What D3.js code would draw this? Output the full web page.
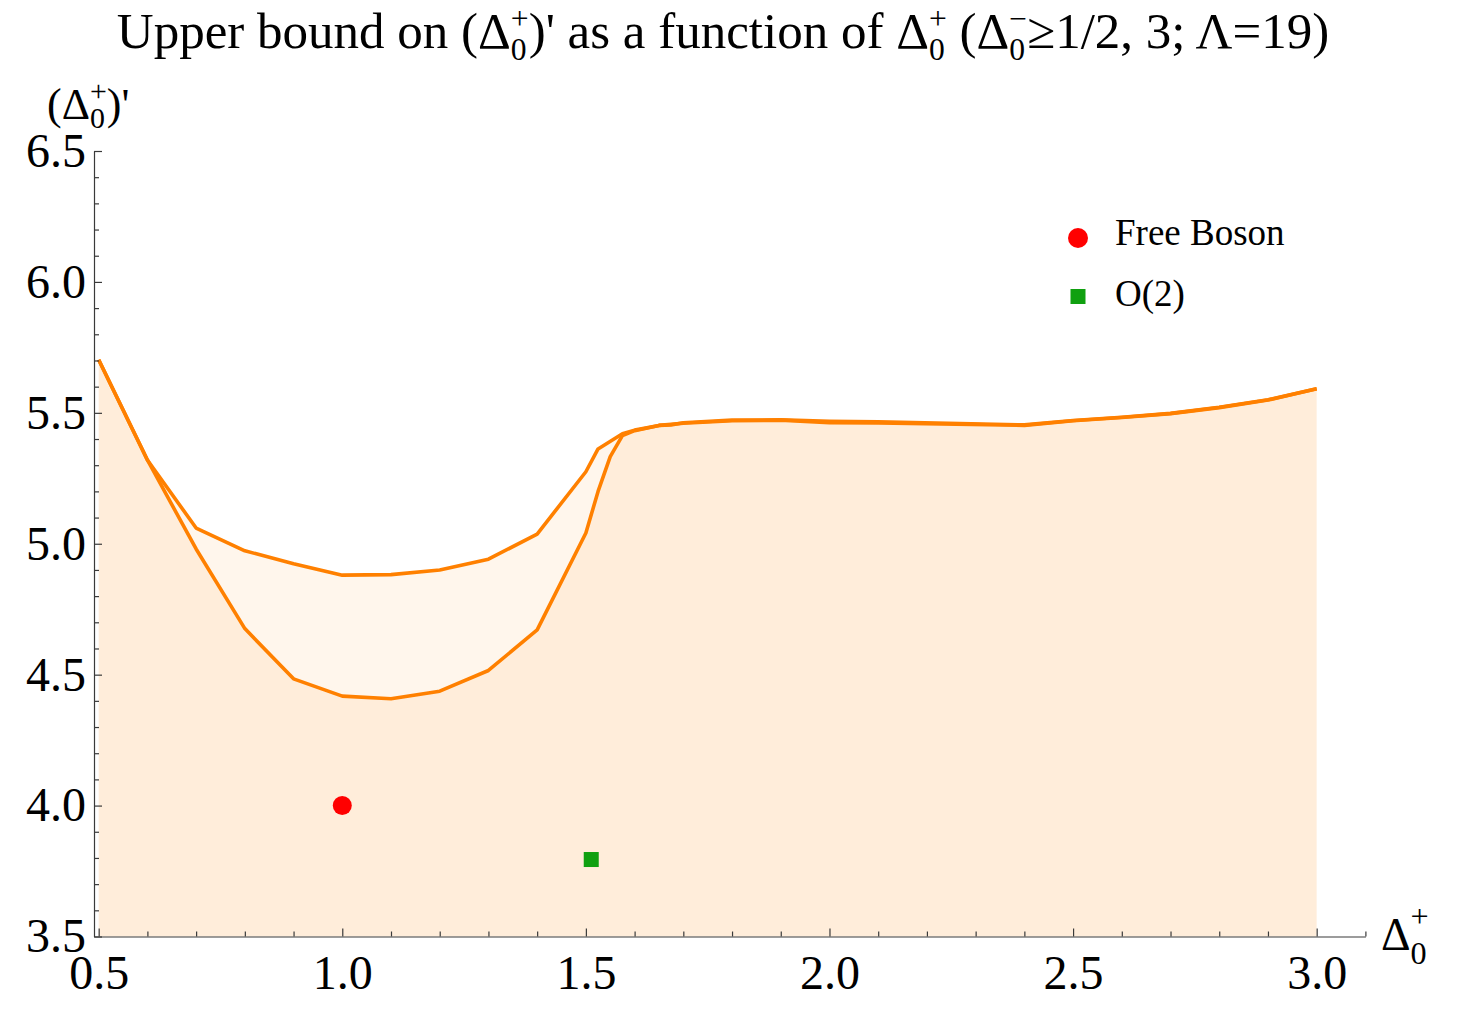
<!DOCTYPE html>
<html>
<head>
<meta charset="utf-8">
<script src="https://cdn.jsdelivr.net/npm/d3@7"></script>
<style>
	body { margin: 0; background: #fff; }
	text { font-family: 'Liberation Serif', 'Times New Roman', serif; fill: #000; }
	.axis path, .axis line { stroke: #3a3a3a; stroke-width: 1.2; }
	.axis text { font-family: 'Liberation Serif', serif; font-size: 48px; fill: #000; }
</style>
</head>
<body>
<div id="chart"></div>
<script>
let width = 1459
let height = 1032

// upper curve of the bound
let upperX = [0.5, 0.6, 0.7, 0.8, 0.9, 1.0, 1.1, 1.2, 1.3, 1.4, 1.5, 1.525, 1.575, 1.6, 1.65, 1.675, 1.7, 1.8, 1.9, 2.0, 2.1, 2.4, 2.5, 2.6, 2.7, 2.8, 2.9, 3.0]
let upperY = [5.703, 5.32, 5.06, 4.973, 4.924, 4.88, 4.882, 4.9, 4.941, 5.037, 5.275, 5.362, 5.42, 5.434, 5.452, 5.454, 5.462, 5.472, 5.473, 5.468, 5.466, 5.454, 5.471, 5.483, 5.498, 5.521, 5.55, 5.592]

// lower curve
let lowerX = [0.5, 0.6, 0.7, 0.8, 0.9, 1.0, 1.1, 1.2, 1.3, 1.4, 1.5, 1.525, 1.55, 1.575, 1.6, 1.65, 1.7, 1.8, 1.9, 2.0, 2.1, 2.4, 2.5, 2.6, 2.7, 2.8, 2.9, 3.0]
let lowerY = [5.703, 5.32, 4.98, 4.676, 4.484, 4.418, 4.408, 4.437, 4.516, 4.671, 5.041, 5.2, 5.333, 5.413, 5.432, 5.452, 5.46, 5.47, 5.472, 5.462, 5.461, 5.452, 5.47, 5.482, 5.497, 5.52, 5.549, 5.592]

// known models
let pointNames = ['Free Boson', 'O(2)']
let pointX = [1.0, 1.511]
let pointY = [4.0, 3.794]
let pointColors = ['#ff0000', '#10a010']

let xTicks = [0.5, 1.0, 1.5, 2.0, 2.5, 3.0]
let yTicks = [3.5, 4.0, 4.5, 5.0, 5.5, 6.0, 6.5]

let xScale = d3.scaleLinear()
	.domain([0.4904, 3.1])
	.range([94, 1365.4])

let yScale = d3.scaleLinear()
	.domain([3.5, 6.5])
	.range([936.5, 151])

let svg = d3.select('#chart').append('svg')
	.attr('width', width)
	.attr('height', height)

// text with stacked sub/superscripts
let richText = (sel, segs, size, o) => {
	let cur = 0
	let small = size * o.small
	segs.forEach((s) => {
		if (s.t !== undefined) {
			sel.append('tspan').attr('dy', -cur).text(s.t)
			cur = 0
		} else {
			sel.append('tspan')
				.attr('font-size', small)
				.attr('dy', size * o.sub - cur)
				.text(s.sub)
			cur = size * o.sub
			sel.append('tspan')
				.attr('font-size', small)
				.attr('dx', -small * 0.5)
				.attr('dy', -size * o.sup - cur)
				.text(s.sup)
			cur = -size * o.sup
		}
	})
}

let toPoints = (xs, ys) => xs.map((x, i) => [x, ys[i]])
let upper = toPoints(upperX, upperY)
let lower = toPoints(lowerX, lowerY)

let area = d3.area()
	.x((d) => xScale(d[0]))
	.y0(yScale(3.5))
	.y1((d) => yScale(d[1]))

let line = d3.line()
	.x((d) => xScale(d[0]))
	.y((d) => yScale(d[1]))

let marks = svg.append('g')

;[upper, lower].forEach((d) => {
	marks.append('path')
		.attr('d', area(d))
		.attr('fill', 'rgb(255,128,0)')
		.attr('fill-opacity', 0.075)
})

;[upper, lower].forEach((d) => {
	marks.append('path')
		.attr('d', line(d))
		.attr('fill', 'none')
		.attr('stroke', '#ff8000')
		.attr('stroke-width', 3.6)
		.attr('stroke-linejoin', 'round')
})

// axes
let minorX = d3.range(0.6, 3.15, 0.1).filter((v) => Math.abs(v * 2 - Math.round(v * 2)) > 0.01)
let minorY = d3.range(3.6, 6.45, 0.1).filter((v) => Math.abs(v * 2 - Math.round(v * 2)) > 0.01)

let xAxisShell = svg.append('g')
	.attr('class', 'axis')
	.attr('transform', `translate(0,${yScale(3.5)})`)

xAxisShell.call(d3.axisBottom(xScale).tickValues(xTicks).tickFormat(d3.format('.1f')).tickSize(-8).tickSizeOuter(0).tickPadding(18))
xAxisShell.append('g')
	.call(d3.axisBottom(xScale).tickValues(minorX).tickFormat('').tickSize(-5).tickSizeOuter(0))
	.select('.domain').remove()

let yAxisShell = svg.append('g')
	.attr('class', 'axis')
	.attr('transform', `translate(${xScale(0.4904)},0)`)

yAxisShell.call(d3.axisLeft(yScale).tickValues(yTicks).tickFormat(d3.format('.1f')).tickSize(-8).tickSizeOuter(0).tickPadding(8))
yAxisShell.append('g')
	.call(d3.axisLeft(yScale).tickValues(minorY).tickFormat('').tickSize(-5).tickSizeOuter(0))
	.select('.domain').remove()

// points
let pts = svg.append('g')
pts.append('circle')
	.attr('cx', xScale(pointX[0]))
	.attr('cy', yScale(pointY[0]))
	.attr('r', 9.5)
	.attr('fill', pointColors[0])
pts.append('rect')
	.attr('x', xScale(pointX[1]) - 7.5)
	.attr('y', yScale(pointY[1]) - 7.5)
	.attr('width', 15)
	.attr('height', 15)
	.attr('fill', pointColors[1])

// legend
let legend = svg.append('g').attr('transform', 'translate(1078,238)')
legend.append('circle').attr('r', 10).attr('fill', pointColors[0])
legend.append('rect').attr('x', -7.5).attr('y', 51).attr('width', 15).attr('height', 15).attr('fill', pointColors[1])
legend.selectAll('text')
	.data(pointNames)
	.enter().append('text')
	.attr('x', 37)
	.attr('y', (d, i) => 7 + i * 61)
	.attr('font-size', 37)
	.text((d) => d)

// title
let title = svg.append('text')
	.attr('x', 723)
	.attr('y', 48)
	.attr('text-anchor', 'middle')
	.attr('font-size', 51)
richText(title, [
	{ t: 'Upper bound on (Δ' }, { sub: '0', sup: '+' },
	{ t: ")' as a function of Δ" }, { sub: '0', sup: '+' },
	{ t: ' (Δ' }, { sub: '0', sup: '−' },
	{ t: '≥1/2, 3; Λ=19)' },
], 51, { small: 0.62, sub: 0.24, sup: 0.38 })

// axis labels
let yLabel = svg.append('text')
	.attr('x', 47)
	.attr('y', 119)
	.attr('font-size', 44)
richText(yLabel, [{ t: '(Δ' }, { sub: '0', sup: '+' }, { t: ")'" }], 44, { small: 0.68, sub: 0.2, sup: 0.42 })

let xLabel = svg.append('text')
	.attr('x', 1381)
	.attr('y', 950)
	.attr('font-size', 46)
richText(xLabel, [{ t: 'Δ' }, { sub: '0', sup: '+' }], 46, { small: 0.7, sub: 0.3, sup: 0.5 })
</script>
</body>
</html>
